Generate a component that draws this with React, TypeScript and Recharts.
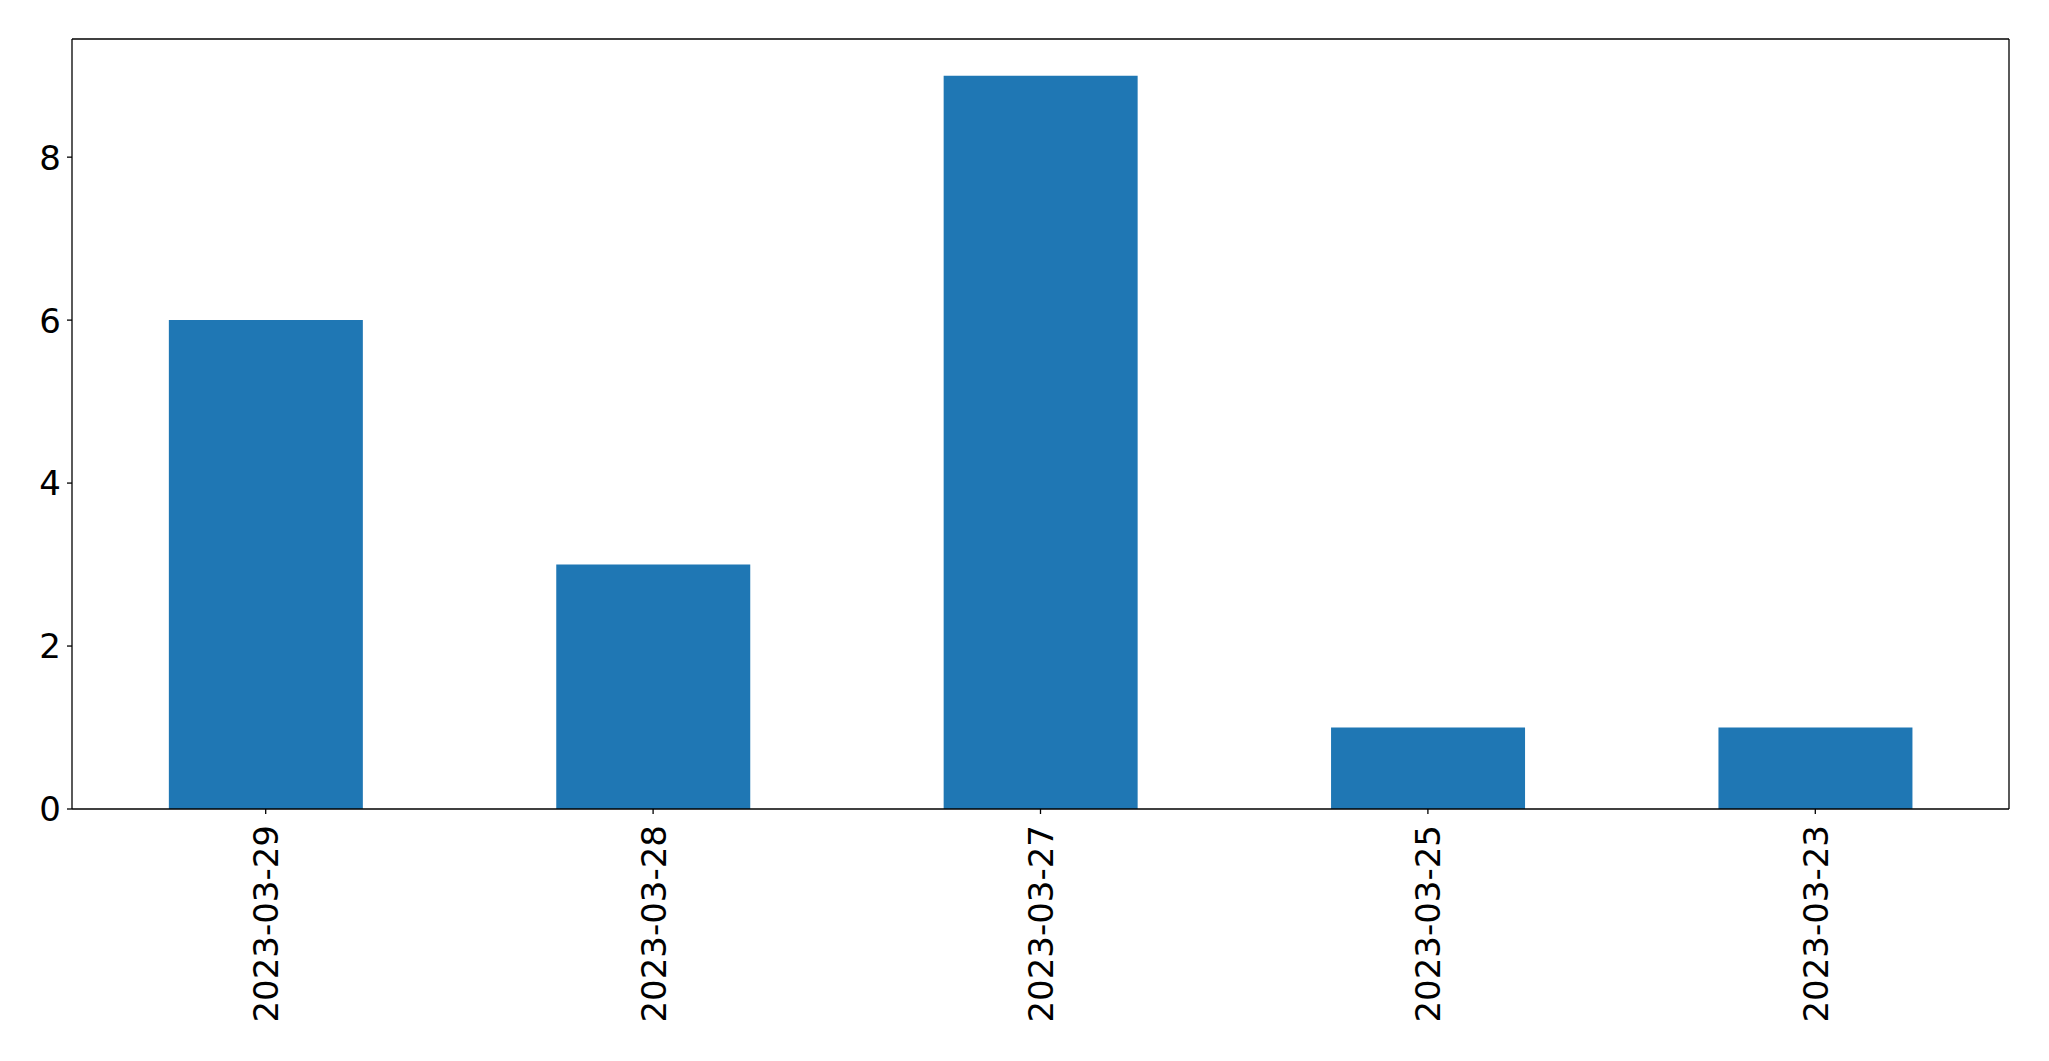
import { BarChart, Bar, XAxis, YAxis } from 'recharts';

const dates = ['2023-03-29', '2023-03-28', '2023-03-27', '2023-03-25', '2023-03-23'];
const counts = [6, 3, 9, 1, 1];
const yTicks = [0, 2, 4, 6, 8];

const data = dates.map((date, i) => ({ date, count: counts[i] }));

const FONT = 'DejaVu Sans';
const FS = 34;

function DateTick({ x, y, payload }: any) {
  const ty = y + 11;
  return (
    <text
      x={x}
      y={ty}
      dy="0.365em"
      transform={`rotate(-90, ${x}, ${ty})`}
      textAnchor="end"
      fill="#000"
      style={{ fontSize: FS, fontFamily: FONT }}
    >
      {payload.value}
    </text>
  );
}

function CountTick({ x, y, payload }: any) {
  return (
    <text
      x={x - 6}
      y={y}
      dy="0.365em"
      textAnchor="end"
      fill="#000"
      style={{ fontSize: FS, fontFamily: FONT }}
    >
      {payload.value}
    </text>
  );
}

export default function App() {
  return (
    <div style={{ position: 'absolute', left: 0, top: 0, width: 2049, height: 1061, background: '#fff' }}>
      <BarChart
        width={2049}
        height={1061}
        data={data}
        margin={{ top: 38, right: 39, bottom: 0, left: 0 }}
        barCategoryGap="25%"
      >
        <XAxis
          dataKey="date"
          xAxisId="bottom"
          height={252}
          interval={0}
          tick={<DateTick />}
          tickSize={5}
          tickMargin={0}
          axisLine={{ stroke: '#000', strokeWidth: 1.3 }}
          tickLine={{ stroke: '#000', strokeWidth: 1.3 }}
        />
        <XAxis
          dataKey="date"
          xAxisId="top"
          orientation="top"
          height={1}
          tick={false}
          tickLine={false}
          axisLine={{ stroke: '#000', strokeWidth: 1.3 }}
        />
        <YAxis
          yAxisId="left"
          width={72}
          domain={[0, 9.45]}
          ticks={yTicks}
          tickSize={5}
          tickMargin={0}
          allowDataOverflow
          tick={<CountTick />}
          axisLine={{ stroke: '#000', strokeWidth: 1.3 }}
          tickLine={{ stroke: '#000', strokeWidth: 1.3 }}
        />
        <YAxis
          yAxisId="right"
          orientation="right"
          width={1}
          domain={[0, 9.45]}
          tick={false}
          tickLine={false}
          axisLine={{ stroke: '#000', strokeWidth: 1.3 }}
        />
        <Bar
          dataKey="count"
          xAxisId="bottom"
          yAxisId="left"
          fill="#1f77b4"
          isAnimationActive={false}
        />
      </BarChart>
    </div>
  );
}
